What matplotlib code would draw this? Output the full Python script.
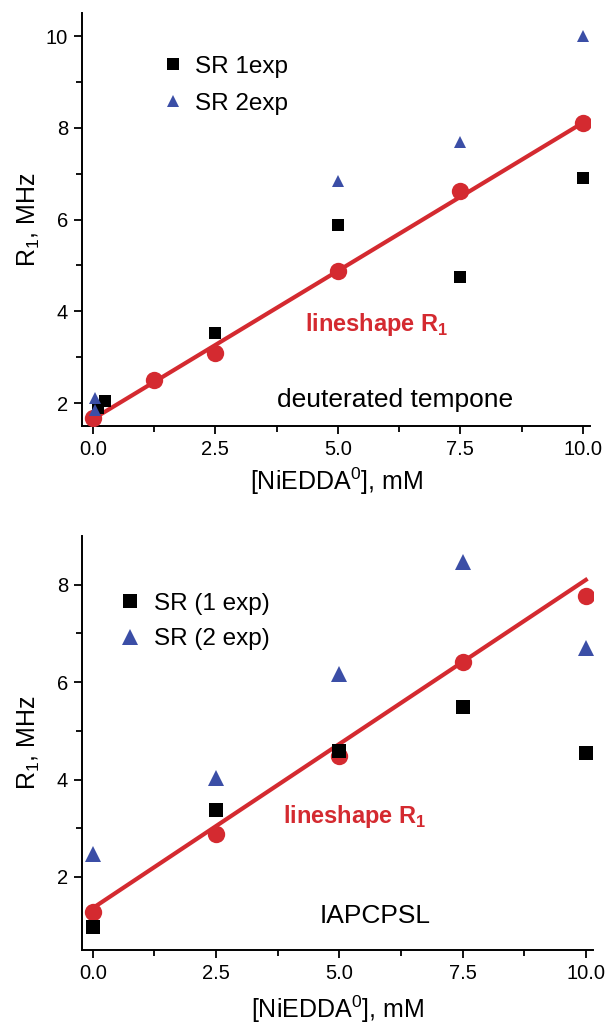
#!/usr/bin/env python3
import numpy as np
import matplotlib

matplotlib.use("Agg")
import matplotlib.pyplot as plt

plt.rcParams["font.family"] = ["Liberation Sans", "DejaVu Sans"]
plt.rcParams["mathtext.fontset"] = "custom"
plt.rcParams["mathtext.rm"] = "Liberation Sans"
plt.rcParams["mathtext.bf"] = "Liberation Sans:bold"

RED = "#d42a30"
BLUE = "#3b4ea6"

# top panel: deuterated tempone
top_sr1_x = [0.1, 0.25, 2.5, 5.0, 7.5, 10.0]
top_sr1_y = [1.9, 2.05, 3.53, 5.88, 4.75, 6.9]
top_sr2_x = [0.05, 0.05, 5.0, 7.5, 10.0]
top_sr2_y = [2.1, 1.85, 6.85, 7.7, 10.0]
top_ls_x = [0.0, 1.25, 2.5, 5.0, 7.5, 10.0]
top_ls_y = [1.68, 2.5, 3.1, 4.87, 6.63, 8.1]
top_fit = (1.65, 0.646)  # intercept, slope

# bottom panel: IAPCPSL
bot_sr1_x = [0.0, 2.5, 5.0, 7.5, 10.0]
bot_sr1_y = [0.97, 3.38, 4.59, 5.5, 4.55]
bot_sr2_x = [0.0, 2.5, 5.0, 7.5, 10.0]
bot_sr2_y = [2.47, 4.03, 6.17, 8.47, 6.7]
bot_ls_x = [0.0, 2.5, 5.0, 7.5, 10.0]
bot_ls_y = [1.28, 2.88, 4.49, 6.42, 7.77]
bot_fit = (1.36, 0.674)

x_ticks = [0.0, 2.5, 5.0, 7.5, 10.0]


def style_axes(ax, ylim, yticks, xlabelpad):
    for side in ("top", "right"):
        ax.spines[side].set_visible(False)
    for side in ("left", "bottom"):
        ax.spines[side].set_linewidth(1.4)
    ax.set_xlim(-0.22, 10.15)
    ax.set_ylim(*ylim)
    ax.set_xticks(x_ticks)
    ax.set_xticks([1.25, 3.75, 6.25, 8.75], minor=True)
    ax.set_xticklabels([f"{t:.1f}" for t in x_ticks])
    ax.set_yticks(yticks)
    ax.set_yticks([t + 1 for t in yticks if t + 1 < ylim[1]], minor=True)
    ax.tick_params(which="major", direction="out", length=6, width=1.3,
                   labelsize=14.5, pad=4)
    ax.tick_params(which="minor", direction="out", length=4, width=1.3)
    ax.set_xlabel("[NiEDDA$^0$], mM", fontsize=18, labelpad=xlabelpad)
    ax.set_ylabel("R$_1$, MHz", fontsize=18)
    ax.yaxis.set_label_coords(-0.078, 0.5)


def panel(ax, sr1, sr2, ls, fit, labels, msize):
    fx = np.array([0.0, 10.0])
    ax.plot(fx, fit[0] + fit[1] * fx, color=RED, lw=3, zorder=2)
    ax.plot(ls[0], ls[1], "o", color=RED, ms=12.5, mew=0, zorder=3)
    h1, = ax.plot(sr1[0], sr1[1], "s", color="black", ms=msize[0], mew=0,
                  zorder=4, label=labels[0])
    h2, = ax.plot(sr2[0], sr2[1], "^", color=BLUE, ms=msize[1], mew=0,
                  zorder=4, label=labels[1])
    return [h1, h2]


fig = plt.figure(figsize=(6.05, 10.27), dpi=100)
ax1 = fig.add_axes([0.1355, 0.5852, 0.84, 0.402])
ax2 = fig.add_axes([0.1355, 0.075, 0.845, 0.403])

hs = panel(ax1, (top_sr1_x, top_sr1_y), (top_sr2_x, top_sr2_y),
           (top_ls_x, top_ls_y), top_fit, ("SR 1exp", "SR 2exp"), (8.5, 9))
style_axes(ax1, (1.5, 10.5), [2, 4, 6, 8, 10], 5)
ax1.legend(handles=hs, loc="upper left", bbox_to_anchor=(0.11, 0.95),
           frameon=False, fontsize=17.5, handletextpad=0.35,
           labelspacing=0.62, handlelength=1.1)
ax1.text(4.33, 3.72, "lineshape R$_\\mathbf{1}$", color=RED, fontsize=17,
         fontweight="bold", va="center", ha="left")
ax1.text(3.76, 2.07, "deuterated tempone", fontsize=19, va="center",
         ha="left")

hs = panel(ax2, (bot_sr1_x, bot_sr1_y), (bot_sr2_x, bot_sr2_y),
           (bot_ls_x, bot_ls_y), bot_fit, ("SR (1 exp)", "SR (2 exp)"),
           (9.5, 12))
style_axes(ax2, (0.5, 9.0), [2, 4, 6, 8], 8)
ax2.legend(handles=hs, loc="upper left", bbox_to_anchor=(0.025, 0.916),
           frameon=False, fontsize=17.5, handletextpad=0.45,
           labelspacing=0.55, handlelength=1.1)
ax2.text(3.85, 3.25, "lineshape R$_\\mathbf{1}$", color=RED, fontsize=17,
         fontweight="bold", va="center", ha="left")
ax2.text(4.6, 1.2, "IAPCPSL", fontsize=19, va="center", ha="left")

fig.savefig("out.png", dpi=100)
